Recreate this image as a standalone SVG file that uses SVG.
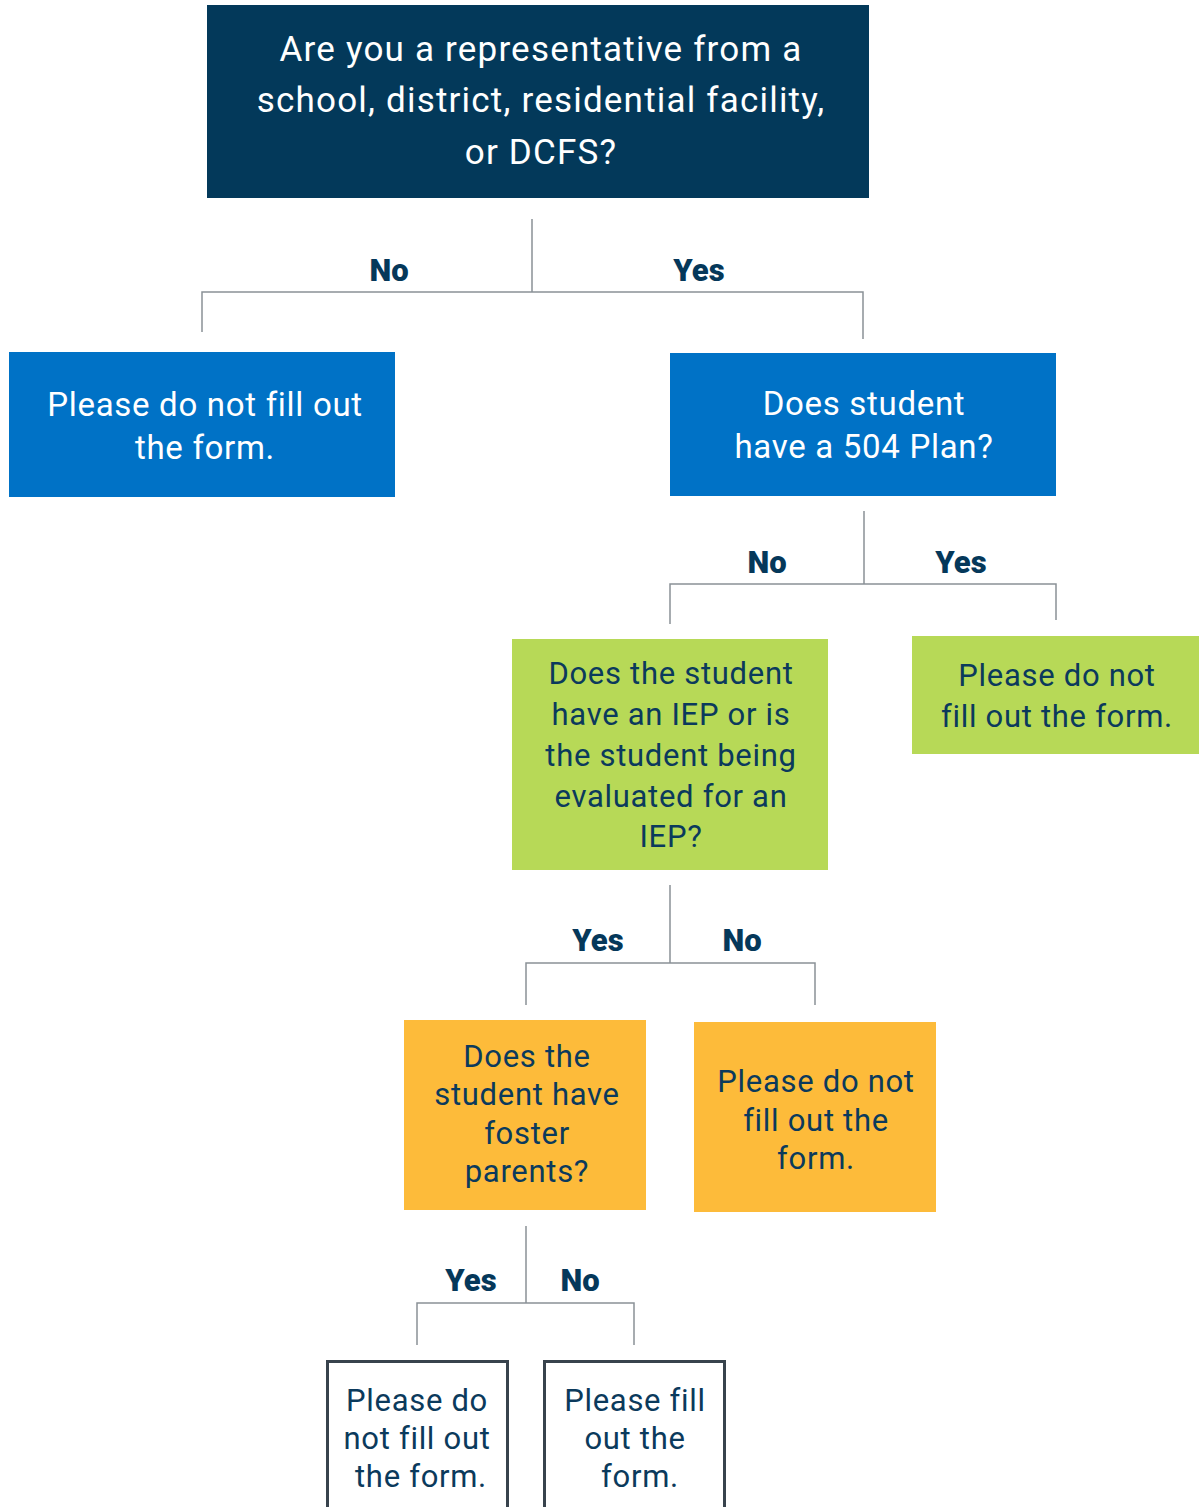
<svg xmlns="http://www.w3.org/2000/svg" width="1199" height="1507" viewBox="0 0 1199 1507">
<style>
.t{font-family:Roboto,"Noto Sans",sans-serif;text-anchor:middle;letter-spacing:0.7px}
.w{fill:#ffffff}
.d{fill:#0b3a5c}
.lbl{font-family:Roboto,"Noto Sans",sans-serif;font-weight:900;font-size:31px;fill:#05385a;text-anchor:middle}
.c{fill:none;stroke:#8a9197;stroke-width:1.5}
</style>
<rect width="1199" height="1507" fill="#ffffff"/>
<g id="connectors">
<path class="c" d="M532 219V292M202 332V292H863V339"/>
<path class="c" d="M864 511V584M670 624V584H1056V620"/>
<path class="c" d="M670 885V963M526 1005V963H815V1005"/>
<path class="c" d="M526 1226V1303M417 1345V1303H634V1345"/>
<text class="lbl" x="389" y="281">No</text>
<text class="lbl" x="699" y="281">Yes</text>
<text class="lbl" x="767" y="573">No</text>
<text class="lbl" x="961" y="573">Yes</text>
<text class="lbl" x="598" y="951">Yes</text>
<text class="lbl" x="742" y="951">No</text>
<text class="lbl" x="471" y="1291">Yes</text>
<text class="lbl" x="580" y="1291">No</text>
</g>
<g id="q1">
<rect x="207" y="5" width="662" height="193" fill="#03395a"/>
<text class="t w" font-size="35" style="letter-spacing:1.2px"><tspan x="541" y="61">Are you a representative from a</tspan><tspan x="541" y="112">school, district, residential facility,</tspan><tspan x="541" y="164">or DCFS?</tspan></text>
</g>
<g id="no1">
<rect x="9" y="352" width="386" height="145" fill="#0072c6"/>
<text class="t w" font-size="33"><tspan x="205" y="416">Please do not fill out</tspan><tspan x="205" y="459">the form.</tspan></text>
</g>
<g id="q2">
<rect x="670" y="353" width="386" height="143" fill="#0072c6"/>
<text class="t w" font-size="33"><tspan x="864" y="415">Does student</tspan><tspan x="864" y="458">have a 504 Plan?</tspan></text>
</g>
<g id="q3">
<rect x="512" y="639" width="316" height="231" fill="#b7d957"/>
<text class="t d" font-size="31"><tspan x="671" y="684">Does the student</tspan><tspan x="671" y="725">have an IEP or is</tspan><tspan x="671" y="766">the student being</tspan><tspan x="671" y="807">evaluated for an</tspan><tspan x="671" y="847">IEP?</tspan></text>
</g>
<g id="no2">
<rect x="912" y="636" width="287" height="118" fill="#b7d957"/>
<text class="t d" font-size="31"><tspan x="1057" y="686">Please do not</tspan><tspan x="1057" y="727">fill out the form.</tspan></text>
</g>
<g id="q4">
<rect x="404" y="1020" width="242" height="190" fill="#fdbb3a"/>
<text class="t d" font-size="31"><tspan x="527" y="1067">Does the</tspan><tspan x="527" y="1105">student have</tspan><tspan x="527" y="1144">foster</tspan><tspan x="527" y="1182">parents?</tspan></text>
</g>
<g id="no3">
<rect x="694" y="1022" width="242" height="190" fill="#fdbb3a"/>
<text class="t d" font-size="31"><tspan x="816" y="1092">Please do not</tspan><tspan x="816" y="1131">fill out the</tspan><tspan x="816" y="1169">form.</tspan></text>
</g>
<g id="no4">
<rect x="327.5" y="1361.5" width="180" height="170" fill="#ffffff" stroke="#38434d" stroke-width="3"/>
<text class="t d" font-size="31"><tspan x="417" y="1411">Please do</tspan><tspan x="417" y="1449">not fill out</tspan><tspan x="421" y="1487">the form.</tspan></text>
</g>
<g id="yes4">
<rect x="544.5" y="1361.5" width="180" height="170" fill="#ffffff" stroke="#38434d" stroke-width="3"/>
<text class="t d" font-size="31"><tspan x="635" y="1411">Please fill</tspan><tspan x="635" y="1449">out the</tspan><tspan x="640" y="1487">form.</tspan></text>
</g>
</svg>
